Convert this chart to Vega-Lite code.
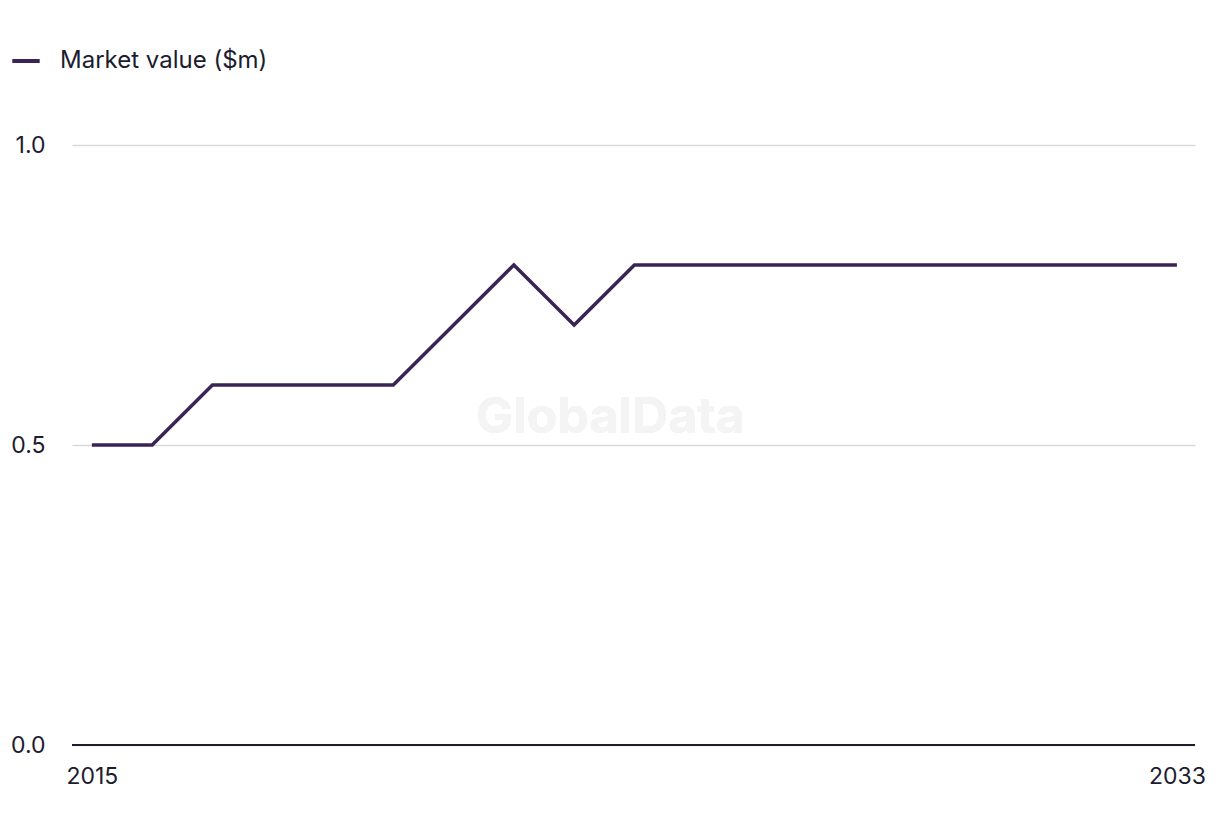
{
  "$schema": "https://vega.github.io/schema/vega-lite/v6.json",
  "width": 1123,
  "height": 600,
  "autosize": {"type": "none"},
  "padding": {"left": 72, "top": 145, "right": 25, "bottom": 91},
  "background": "white",
  "config": {
    "view": {"stroke": null},
    "font": "Inter",
    "axis": {"labelFont": "Inter", "labelFontSize": 23, "labelColor": "#1c1c30", "titleFontSize": 0}
  },
  "data": {
    "values": [
      {"year": 2015, "value": 0.5, "series": "Market value ($m)"},
      {"year": 2016, "value": 0.5, "series": "Market value ($m)"},
      {"year": 2017, "value": 0.6, "series": "Market value ($m)"},
      {"year": 2018, "value": 0.6, "series": "Market value ($m)"},
      {"year": 2019, "value": 0.6, "series": "Market value ($m)"},
      {"year": 2020, "value": 0.6, "series": "Market value ($m)"},
      {"year": 2021, "value": 0.7, "series": "Market value ($m)"},
      {"year": 2022, "value": 0.8, "series": "Market value ($m)"},
      {"year": 2023, "value": 0.7, "series": "Market value ($m)"},
      {"year": 2024, "value": 0.8, "series": "Market value ($m)"},
      {"year": 2025, "value": 0.8, "series": "Market value ($m)"},
      {"year": 2026, "value": 0.8, "series": "Market value ($m)"},
      {"year": 2027, "value": 0.8, "series": "Market value ($m)"},
      {"year": 2028, "value": 0.8, "series": "Market value ($m)"},
      {"year": 2029, "value": 0.8, "series": "Market value ($m)"},
      {"year": 2030, "value": 0.8, "series": "Market value ($m)"},
      {"year": 2031, "value": 0.8, "series": "Market value ($m)"},
      {"year": 2032, "value": 0.8, "series": "Market value ($m)"},
      {"year": 2033, "value": 0.8, "series": "Market value ($m)"}
    ]
  },
  "layer": [
    {
      "mark": {"type": "text", "text": "GlobalData", "fontSize": 50, "fontWeight": "bold", "font": "Inter", "color": "#f4f4f4"},
      "encoding": {
        "x": {"datum": 2023.6, "type": "quantitative"},
        "y": {"datum": 0.545, "type": "quantitative"}
      }
    },
    {
      "mark": {"type": "line", "strokeWidth": 3.5, "strokeJoin": "miter"},
      "encoding": {
        "x": {
          "field": "year", "type": "quantitative",
          "scale": {"domain": [2014.67, 2033.3], "nice": false, "zero": false},
          "axis": {"values": [2015, 2033], "format": "d", "title": null, "grid": false, "ticks": false, "domain": false, "labelPadding": 20, "labelFlush": false}
        },
        "y": {
          "field": "value", "type": "quantitative",
          "scale": {"domain": [0, 1]},
          "axis": {"values": [0, 0.5, 1], "format": ".1f", "title": null, "ticks": false, "domain": false, "grid": true, "gridColor": "#d9d9d9", "gridWidth": 1.5, "labelPadding": 27}
        },
        "color": {
          "field": "series", "type": "nominal",
          "scale": {"range": ["#3a2456"]},
          "legend": {"title": null, "orient": "none", "legendX": -62, "legendY": -100, "symbolType": "stroke", "symbolStrokeWidth": 4, "symbolSize": 750, "labelFontSize": 24, "labelFont": "Inter", "labelColor": "#1c1c30", "labelOffset": 18, "labelLimit": 400}
        }
      }
    },
    {
      "mark": {"type": "rule", "color": "#1c1c30", "strokeWidth": 2},
      "encoding": {"y": {"datum": 0, "type": "quantitative"}}
    }
  ]
}
